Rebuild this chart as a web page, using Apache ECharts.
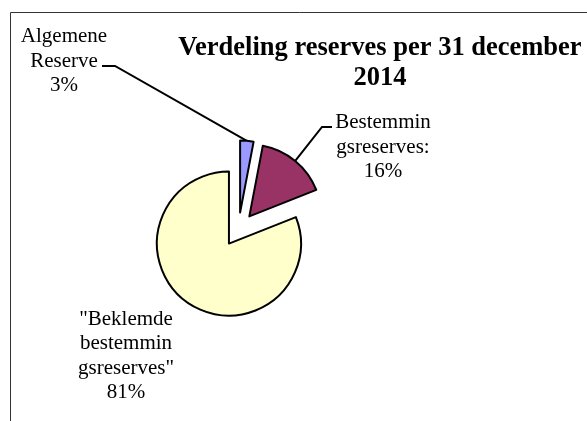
<!DOCTYPE html>
<html>
<head>
<meta charset="utf-8">
<script src="https://cdn.jsdelivr.net/npm/echarts@6/dist/echarts.min.js"></script>
<style>
  html, body { margin: 0; padding: 0; background: #fff; }
  #chart { width: 587px; height: 421px; }
</style>
</head>
<body>
<div id="chart"></div>
<script>
  // data
  const names = ['Algemene\nReserve', 'Bestemmin\ngsreserves:', '"Beklemde\nbestemmin\ngsreserves"']
  const values = [3, 16, 81]
  const colors = ['#9999FF', '#993366', '#FFFFCC']
  // label anchor spots (centre of each text block)
  const labelSpots = [[64, 61], [383, 147], [126, 356]]
  // leader line bend / end, relative to the label spot
  const leaderEnds = [[[51, 5], [38, 5]], [[-61, -20], [-51, -20]], null]

  const serif = '"Liberation Serif", "Times New Roman", serif'
  const pieCenter = [238.5, 229.5]
  const explode = 17
  const total = values.reduce((a, b) => a + b, 0)

  const chart = echarts.init(document.getElementById('chart'), null, { renderer: 'canvas' })

  // one series per slice so every slice can be pulled out along its own mid angle
  let cum = 0
  const series = values.map(function(v, i) {
    const mid = (cum + v / 2) / total * Math.PI * 2
    cum += v
    const center = [pieCenter[0] + explode * Math.sin(mid), pieCenter[1] - explode * Math.cos(mid)]
    return {
      type: 'pie',
      center: center,
      radius: 72,
      startAngle: 90,
      clockwise: true,
      avoidLabelOverlap: false,
      silent: true,
      emphasis: { disabled: true },
      label: {
        position: 'outside',
        fontFamily: serif,
        fontSize: 21,
        lineHeight: 24.5,
        color: '#000',
        align: 'center',
        verticalAlign: 'middle',
        formatter: function(p) {
          return p.name + '\n' + Math.round(p.percent) + '%'
        }
      },
      labelLine: {
        lineStyle: { color: '#000', width: 2 }
      },
      labelLayout: function(params) {
        const spot = labelSpots[i]
        const res = { x: spot[0], y: spot[1], align: 'center', verticalAlign: 'middle' }
        const le = leaderEnds[i]
        if (le && params.labelLinePoints) {
          const p0 = params.labelLinePoints[0]
          res.labelLinePoints = [
            [p0[0], p0[1]],
            [spot[0] + le[0][0], spot[1] + le[0][1]],
            [spot[0] + le[1][0], spot[1] + le[1][1]]
          ]
        }
        return res
      },
      data: values.map(function(val, j) {
        const on = j === i
        return {
          name: names[j],
          value: val,
          itemStyle: on
            ? { color: colors[j], borderColor: '#000', borderWidth: 2 }
            : { color: 'rgba(0,0,0,0)', borderWidth: 0 },
          label: { show: on },
          labelLine: { show: on && j < 2 }
        }
      })
    }
  })

  chart.setOption({
    animation: false,
    backgroundColor: '#fff',
    title: {
      text: 'Verdeling reserves per 31 december\n2014',
      left: 375,
      top: 28,
      textAlign: 'center',
      textStyle: {
        fontFamily: serif,
        fontWeight: 'bold',
        fontSize: 26.5,
        lineHeight: 30,
        color: '#000'
      }
    },
    graphic: [{
      type: 'rect',
      silent: true,
      shape: { x: 10.5, y: 12.5, width: 700, height: 500 },
      style: { fill: 'none', stroke: '#333', lineWidth: 1 }
    }],
    series: series
  })
</script>
</body>
</html>
